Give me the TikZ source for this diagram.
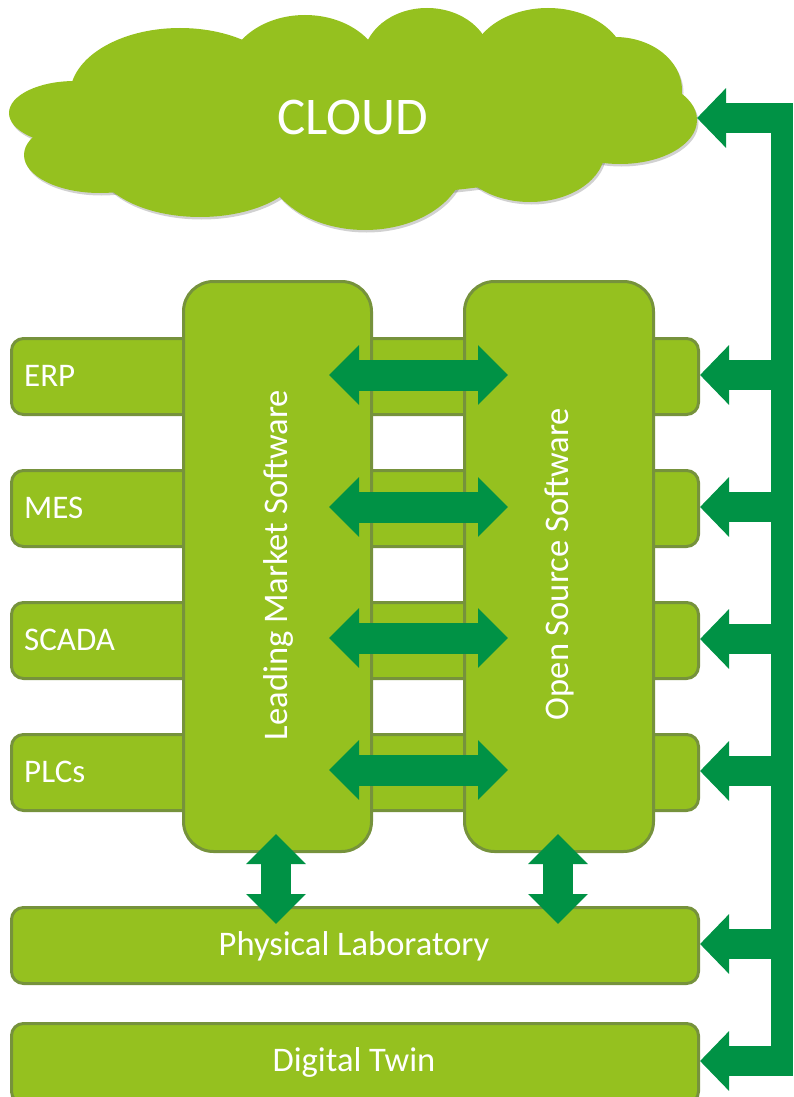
\documentclass[tikz,border=0pt]{standalone}
\usepackage{fontspec}
\setmainfont{Carlito}
\usetikzlibrary{arrows.meta}
\definecolor{lime}{RGB}{149,193,31}
\definecolor{olivebd}{RGB}{118,146,60}
\definecolor{agreen}{RGB}{0,146,69}
\begin{document}
\begin{tikzpicture}[x=1pt,y=-1pt,
  rowbox/.style={draw=olivebd, line width=3pt, fill=lime, rounded corners=12pt, inner sep=0pt, anchor=north west},
  colbox/.style={draw=olivebd, line width=3pt, fill=lime, rounded corners=30pt, inner sep=0pt, anchor=north west},
  lbl/.style={text=white, inner sep=0pt, font=\fontsize{33}{38}\selectfont},
  biglbl/.style={text=white, inner sep=0pt, font=\fontsize{34.5}{40}\selectfont},
  busarrow/.style={draw=agreen, line width=30pt, -{Triangle[length=29pt,width=58pt]}},
  dblarrow/.style={draw=agreen, line width=31pt, {Triangle[length=30pt,width=58pt]}-{Triangle[length=30pt,width=58pt]}},
  puff/.style={fill=lime},
  puffshadow/.style={fill=black, opacity=0.18}]
\useasboundingbox (0,0) rectangle (793,1097);

% ---- cloud ----
\begin{scope}[shift={(1.5,2.5)}]
\foreach \cx/\cy/\rx/\ry in {75/113/66/32, 100/155/76/38, 180/95/110/67, 305/75/78/60, 427/60/64/52, 548/65/78/57, 615/90/67/53, 620/120/77/44, 530/150/75/52, 365/160/100/70, 200/160/105/57, 350/120/290/75}
  \fill[puffshadow] (\cx,\cy) ellipse [x radius=\rx, y radius=\ry];
\end{scope}
\foreach \cx/\cy/\rx/\ry in {75/113/66/32, 100/155/76/38, 180/95/110/67, 305/75/78/60, 427/60/64/52, 548/65/78/57, 615/90/67/53, 620/120/77/44, 530/150/75/52, 365/160/100/70, 200/160/105/57, 350/120/290/75}
  \fill[puff] (\cx,\cy) ellipse [x radius=\rx, y radius=\ry];
\node[text=white, inner sep=0pt, font=\fontsize{53}{60}\selectfont] (cloud) at (353,117) {CLOUD};
\coordinate (cloudR) at (697,118);

% ---- rows ----
\node[rowbox, minimum width=687pt, minimum height=76pt] (erp) at (10,337) {};
\node[rowbox, minimum width=687pt, minimum height=76pt] (mes) at (10,469) {};
\node[rowbox, minimum width=687pt, minimum height=76pt] (scada) at (10,601) {};
\node[rowbox, minimum width=687pt, minimum height=76pt] (plcs) at (10,733) {};
\node[lbl, anchor=west] (erpt) at (24,376) {ERP};
\node[lbl, anchor=west] (mest) at (24,508) {MES};
\node[lbl, anchor=west] (scadat) at (24,640) {SCADA};
\node[lbl, anchor=west] (plcst) at (24,772) {PLCs};

% ---- columns ----
\node[colbox, minimum width=188pt, minimum height=570pt] (lms) at (182,280) {};
\node[colbox, minimum width=189pt, minimum height=570pt] (oss) at (463,280) {};
\node[biglbl, rotate=90] (lmst) at (278,565) {Leading Market Software};
\node[biglbl, rotate=90] (osst) at (559,564) {Open Source Software};

% ---- bottom boxes ----
\node[rowbox, minimum width=687pt, minimum height=76pt] (lab) at (10,906) {};
\node[rowbox, minimum width=687pt, minimum height=80pt] (twin) at (10,1022) {};
\node[biglbl] (labt) at (354,946) {Physical Laboratory};
\node[biglbl] (twint) at (354,1062) {Digital Twin};

% ---- double arrows between columns ----
\foreach \n/\y in {1/375, 2/507, 3/638, 4/770} {
  \coordinate (hl\n) at (329,\y);
  \coordinate (hr\n) at (508,\y);
  \draw[dblarrow] (hl\n) -- (hr\n);
}
\coordinate (vl1) at (276,834);
\coordinate (vl2) at (276,924);
\coordinate (vr1) at (558,834);
\coordinate (vr2) at (558,924);
\draw[dblarrow, line width=30pt] (vl1) -- (vl2);
\draw[dblarrow, line width=30pt] (vr1) -- (vr2);

% ---- right bus ----
\coordinate (busTop) at (771,103);
\coordinate (busBot) at (793,1076);
\fill[agreen] (busTop) rectangle (busBot);
\coordinate (b0) at (782,118);
\coordinate (b1) at (782,375);
\coordinate (b2) at (782,507);
\coordinate (b3) at (782,639);
\coordinate (b4) at (782,771);
\coordinate (b5) at (782,944);
\coordinate (b6) at (782,1061);
\draw[busarrow] (b0) -- (cloudR);
\draw[busarrow] (b1) -- (erp.east |- b1);
\draw[busarrow] (b2) -- (mes.east |- b2);
\draw[busarrow] (b3) -- (scada.east |- b3);
\draw[busarrow] (b4) -- (plcs.east |- b4);
\draw[busarrow] (b5) -- (lab.east |- b5);
\draw[busarrow] (b6) -- (twin.east |- b6);
\end{tikzpicture}
\end{document}
